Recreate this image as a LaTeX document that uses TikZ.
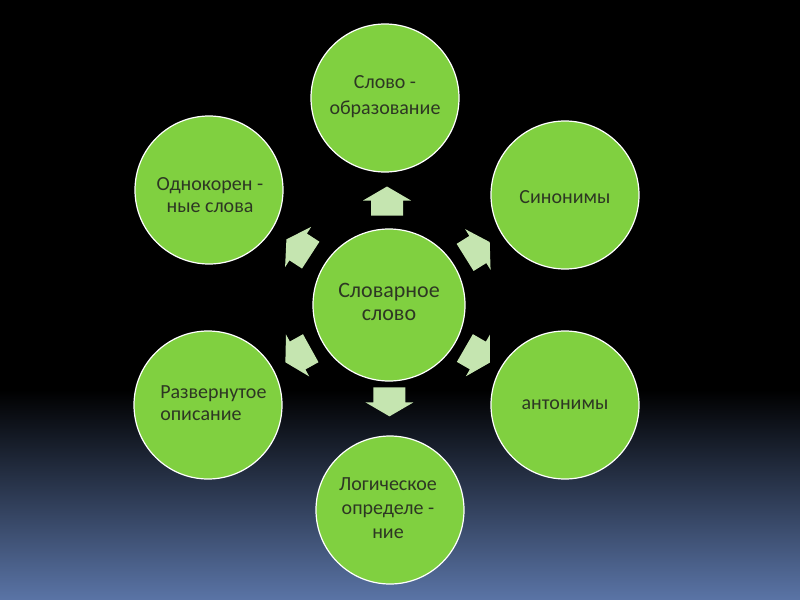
\documentclass[tikz,border=0pt]{standalone}
\usepackage{fontspec}
\setmainfont{Carlito}
\usetikzlibrary{calc}
\definecolor{circfill}{RGB}{128,208,64}
\definecolor{arrfill}{RGB}{197,229,176}
\definecolor{txt}{RGB}{45,55,35}
\definecolor{bgblue}{RGB}{90,116,166}
\tikzset{
  circ/.style={circle, fill=circfill, draw=white, line width=0.9pt, minimum size=111pt, inner sep=0pt},
  bigcirc/.style={circ, minimum size=114pt},
  lbl/.style={text=txt, font=\fontsize{15}{17}\selectfont, align=center, inner sep=0pt},
  blockarrow/.pic={\fill[arrfill] (-14,-16) -- (1,-16) -- (1,-24) -- (15,0) -- (1,24) -- (1,16) -- (-14,16) -- cycle;}
}
\begin{document}
\begin{tikzpicture}[x=0.75pt,y=-0.75pt]
\useasboundingbox (0,0) rectangle (800,600);
\fill[black] (0,0) rectangle (800,600);
\shade[top color=black, bottom color=bgblue] (0,390) rectangle (800,600);

\node[bigcirc] (c) at (389,305) {};
\node[circ] (n1) at (385,98) {};
\node[circ] (n2) at (565,195) {};
\node[circ] (n3) at (565,405) {};
\node[circ] (n4) at (390,510) {};
\node[circ] (n5) at (208,405) {};
\node[circ] (n6) at (209,190) {};

\node[lbl, font=\fontsize{16.5}{17.5}\selectfont] (tc) at (389,302) {Словарное\\слово};
\node[lbl, font=\fontsize{15}{19.5}\selectfont] (t1) at (385,97) {Слово -\\образование};
\node[lbl] (t2) at (565,197) {Синонимы};
\node[lbl] (t3) at (565,405) {антонимы};
\node[lbl, font=\fontsize{15}{18}\selectfont] (t4) at (388,508) {Логическое\\определе -\\ние};
\node[lbl, align=left, anchor=west, font=\fontsize{15}{16}\selectfont] (t5) at (160,403) {Развернутое\\описание};
\node[lbl, font=\fontsize{15}{17}\selectfont] (t6) at (210,195) {Однокорен -\\ные слова};

\pic[rotate=90] (a1) at ($(c)!0.5!(n1)$) {blockarrow};
\pic[rotate=32] (a2) at ($(c)!0.5!(n2)$) {blockarrow};
\pic[rotate=-30] (a3) at ($(c)!0.5!(n3)$) {blockarrow};
\pic[rotate=-90] (a4) at ($(c)!0.47!(n4)$) {blockarrow};
\pic[rotate=-151] (a5) at ($(c)!0.5!(n5)$) {blockarrow};
\pic[rotate=147] (a6) at ($(c)!0.5!(n6)$) {blockarrow};
\end{tikzpicture}
\end{document}
